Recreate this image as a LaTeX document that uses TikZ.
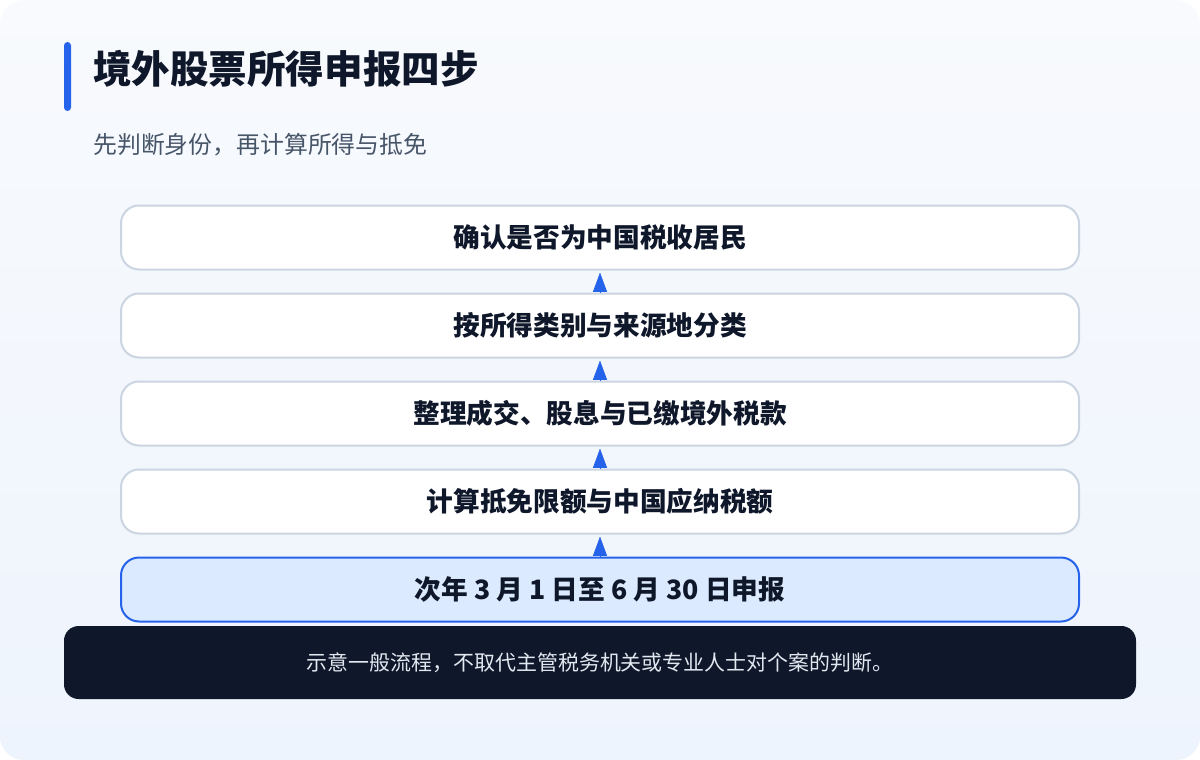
\documentclass[tikz,border=0pt]{standalone}
\usepackage{fontspec}
\setmainfont{Noto Sans CJK SC}
\usetikzlibrary{arrows.meta}

\definecolor{bgtop}{HTML}{F8FAFD}
\definecolor{bgbot}{HTML}{EEF4FD}
\definecolor{ink}{HTML}{0F172A}
\definecolor{subink}{HTML}{475569}
\definecolor{stepline}{HTML}{CBD5E1}
\definecolor{accent}{HTML}{2563EB}
\definecolor{lastfill}{HTML}{DBEAFE}
\definecolor{notetext}{HTML}{E2E8F0}

\begin{document}
\begin{tikzpicture}[x=0.75pt,y=0.75pt,yscale=-1,xscale=1,
  stepbox/.style={draw=stepline, line width=1.5pt, fill=white, rounded corners=13.5pt,
    minimum width=718.5pt, minimum height=48pt, inner sep=0pt, text=ink,
    font=\fontsize{20}{24}\selectfont\bfseries},
  laststep/.style={stepbox, draw=accent, fill=lastfill},
  flowarrow/.style={draw=accent, line width=0.6pt, shorten >=1.5pt,
    -{Triangle[length=14.5pt,width=10.5pt]}, fill=accent},
  notebox/.style={fill=ink, rounded corners=11pt, minimum width=804pt,
    minimum height=54.75pt, inner sep=0pt, text=notetext,
    font=\fontsize{15.7}{19}\selectfont}]
\useasboundingbox (0,0) rectangle (1200,760);

%Shape: Background
\shade [rounded corners=18pt, top color=bgtop, bottom color=bgbot] (0,0) rectangle (1200,760);
%Shape: Title bar
\fill [accent, rounded corners=2.6pt] (64,42) rectangle (71,111);

% Text Node
\node [anchor=west, inner sep=0pt, text=ink, font=\fontsize{28.9}{34}\selectfont\bfseries] (title) at (93,69) {境外股票所得申报四步};
% Text Node
\node [anchor=west, inner sep=0pt, text=subink, font=\fontsize{17.9}{21}\selectfont] (subtitle) at (93,145) {先判断身份，再计算所得与抵免};

%Steps
\node [stepbox] (s1) at (600,237.5) {确认是否为中国税收居民};
\node [stepbox] (s2) at (600,325.5) {按所得类别与来源地分类};
\node [stepbox] (s3) at (600,413.5) {整理成交、股息与已缴境外税款};
\node [stepbox] (s4) at (600,501.5) {计算抵免限额与中国应纳税额};
\node [laststep] (s5) at (600,589.5) {次年 3 月 1 日至 6 月 30 日申报};

%Arrows
\foreach \from/\to in {s2/s1,s3/s2,s4/s3,s5/s4}
  \draw [flowarrow] (\from.north) -- (\to.south);

%Note
\node [notebox] (note) at (600,662.5) {示意一般流程，不取代主管税务机关或专业人士对个案的判断。};

\end{tikzpicture}
\end{document}
